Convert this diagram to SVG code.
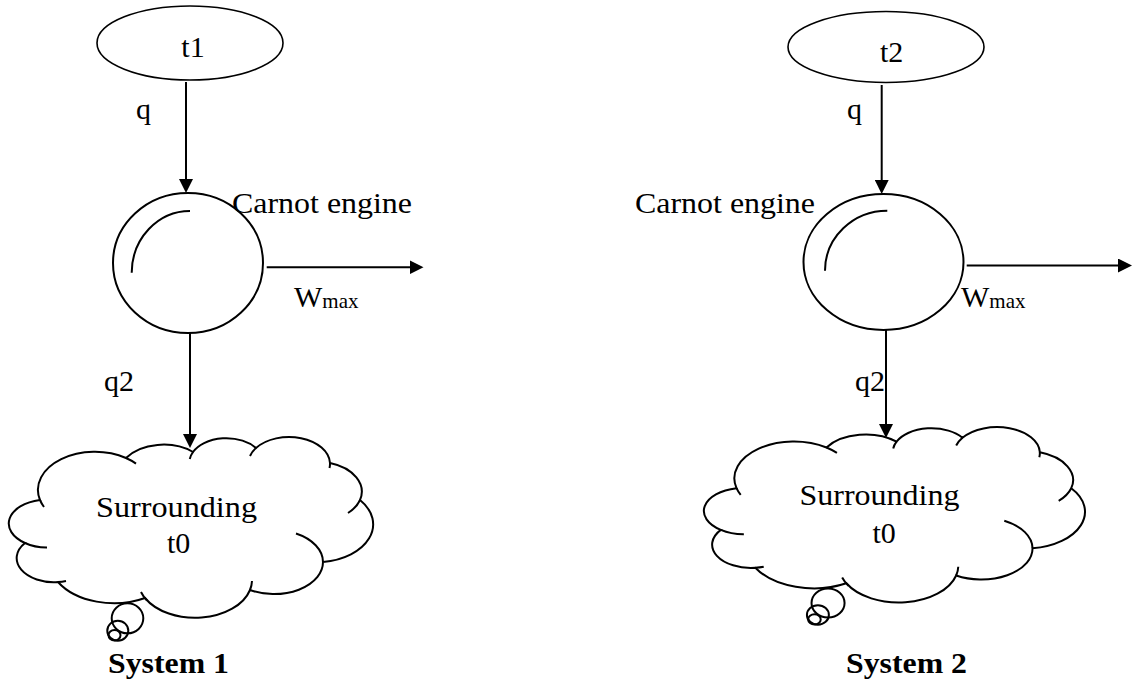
<svg xmlns="http://www.w3.org/2000/svg" xmlns:xlink="http://www.w3.org/1999/xlink" width="1140" height="681" viewBox="0 0 1140 681">
  <style>
    .txt { font-family: "Liberation Serif", "Times New Roman", serif; font-size: 30px; fill: #000; }
    .bold { font-weight: bold; }
    .sub { font-size: 21px; }
    .shape { fill: #fff; stroke: #000; stroke-width: 2; }
    .thin { fill: #fff; stroke: #000; stroke-width: 1.6; }
    .line { fill: none; stroke: #000; stroke-width: 2; }
    .cl { fill: #fff; stroke: #000; stroke-width: 2; vector-effect: non-scaling-stroke; }
    .cl-open { fill: none; stroke: #000; stroke-width: 2; vector-effect: non-scaling-stroke; }
    .conn { fill: none; stroke: #000; stroke-width: 2; marker-end: url(#head); }
  </style>
  <defs>
    <marker id="head" markerUnits="userSpaceOnUse" markerWidth="14" markerHeight="14" refX="10" refY="7" orient="auto">
      <path d="M0,0 L14,7 L0,14 Z" fill="#000"/>
    </marker>
    <!-- cloud callout: lobed outline, inner hooks and the trailing bubbles -->
    <g id="cloud-shape">
      <path class="cl" d="M 40,500 A 57 38 0 0 1 126,458 A 45 30 0 0 1 193,452 A 37 24.4 0 0 1 256,448 A 41 27 0 0 1 330,463 A 45 30 0 0 1 360,500 A 57 38 0 0 1 323,562 A 49 32 0 0 1 250,590 A 57 38 0 0 1 145,598 A 65 43 0 0 1 58,582 A 37 24 0 0 1 25,543 A 39 24 0 0 1 40,500 Z"/>
      <path class="cl-open" d="M 44,507 A 57 38 0 0 1 40,500 M 126,458 A 57 38 0 0 1 136,463.6 M 189.8,459 A 37 24.4 0 0 1 193,452 M 250,456 A 41 27 0 0 1 256,448 M 330,463 A 41 27 0 0 1 329.5,468 M 360,500 A 45 30 0 0 1 348,513 M 296,533.5 A 49 32 0 0 1 323,562 M 252,581 A 57 38 0 0 1 250,590 M 147,600.5 A 57 38 0 0 1 141,592 M 66,581 A 37 24 0 0 1 58,582 M 47,547.5 A 37 24 0 0 1 25,543"/>
      <ellipse class="cl-open" cx="127.5" cy="618.3" rx="15.8" ry="15"/>
      <ellipse class="cl-open" cx="117.8" cy="630.7" rx="10.5" ry="10"/>
      <ellipse class="cl-open" cx="114.5" cy="635.3" rx="6" ry="5.3"/>
    </g>
  </defs>

  <!-- System 1 -->
  <g id="source-t1">
    <ellipse class="thin" cx="190" cy="43" rx="93" ry="37"/>
    <text class="txt" x="193" y="57" text-anchor="middle">t1</text>
  </g>
  <g id="engine-1">
    <ellipse class="shape" cx="188" cy="263" rx="75" ry="70"/>
    <path class="line" d="M 190,211 A 58.3 62 0 0 0 131.7,272.7"/>
    <text class="txt" x="232" y="213" textLength="180" lengthAdjust="spacingAndGlyphs">Carnot engine</text>
  </g>
  <g id="surrounding-1">
    <use xlink:href="#cloud-shape"/>
    <text class="txt" x="96" y="517" textLength="161" lengthAdjust="spacingAndGlyphs">Surrounding</text>
    <text class="txt" x="167" y="553">t0</text>
  </g>
  <text id="caption-1" class="txt bold" x="108" y="673" textLength="121" lengthAdjust="spacingAndGlyphs">System 1</text>

  <!-- System 2 -->
  <g id="source-t2">
    <ellipse class="thin" cx="886" cy="47" rx="98" ry="35.5"/>
    <text class="txt" x="880" y="62">t2</text>
  </g>
  <g id="engine-2">
    <ellipse class="shape" cx="883.5" cy="262" rx="80" ry="68"/>
    <path class="line" d="M 887.3,210.7 A 62.3 60 0 0 0 825,270.7"/>
    <text class="txt" x="635" y="213" textLength="180" lengthAdjust="spacingAndGlyphs">Carnot engine</text>
  </g>
  <g id="surrounding-2">
    <use xlink:href="#cloud-shape" transform="matrix(1.046 0 0 0.97 694.68 3.2)"/>
    <text class="txt" x="799.5" y="505" textLength="160" lengthAdjust="spacingAndGlyphs">Surrounding</text>
    <text class="txt" x="872.5" y="543">t0</text>
  </g>
  <text id="caption-2" class="txt bold" x="846" y="673" textLength="121" lengthAdjust="spacingAndGlyphs">System 2</text>

  <!-- heat and work flows -->
  <g id="connectors">
    <line class="conn" x1="186" y1="82" x2="186" y2="189"/>
    <line class="conn" x1="266.7" y1="267.3" x2="419.5" y2="267.3"/>
    <line class="conn" x1="190" y1="333" x2="190" y2="444"/>
    <line class="conn" x1="881.7" y1="85" x2="881.7" y2="190"/>
    <line class="conn" x1="966.7" y1="265.5" x2="1128" y2="265.5"/>
    <line class="conn" x1="886" y1="330" x2="886" y2="434"/>
  </g>
  <g id="flow-labels">
    <text class="txt" x="136" y="119">q</text>
    <text class="txt" x="294" y="307">W<tspan class="sub" dy="1">max</tspan></text>
    <text class="txt" x="104" y="391">q2</text>
    <text class="txt" x="847" y="119">q</text>
    <text class="txt" x="961" y="307">W<tspan class="sub" dy="1">max</tspan></text>
    <text class="txt" x="855" y="391">q2</text>
  </g>
</svg>
